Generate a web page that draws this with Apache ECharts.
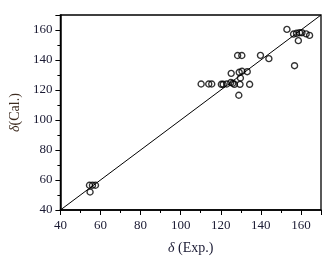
<!DOCTYPE html>
<html>
<head>
<meta charset="utf-8">
<script src="https://cdn.jsdelivr.net/npm/echarts@6/dist/echarts.min.js"></script>
<style>
  html, body { margin: 0; padding: 0; background: #fff; }
  #main { width: 334px; height: 261px; }
</style>
</head>
<body>
<div id="main"></div>
<script>
// experimental vs calculated shifts [exp, cal]
var lowPoints = [
  [54.5, 56.5], [56, 56.5], [57.5, 56.5], [54.8, 52]
];
var midPoints = [
  [110.2, 124], [114, 124], [115.5, 124], [120.3, 123.8], [121.2, 123.8],
  [123, 124], [125, 125], [126, 124.5], [126.8, 123.8], [129.6, 123.8],
  [134.4, 123.8], [125.2, 131.1], [129.2, 131.8], [130.6, 132.5],
  [133.2, 132.2], [129.8, 128], [129, 116.5], [128.4, 143], [130.5, 143],
  [139.8, 143.1], [144, 140.9]
];
var highPoints = [
  [153, 160.4], [156.3, 157.3], [157.8, 157.8], [159.3, 158.2], [160.5, 158.2],
  [162.6, 157.4], [164.3, 156.4], [158.7, 152.9], [156.8, 136.2]
];
var diagLine = [[40, 40], [170, 170]];
var axisMin = 40, axisMax = 170, axisStep = 20;

var chart = echarts.init(document.getElementById('main'));
var numColor = '#1a1a33';
var fontFam = 'Liberation Serif';

option = {
  backgroundColor: '#FFFFFF',
  animation: false,
  grid: {
    left: 58.5, right: 13, top: 15, bottom: 51,
    show: true,
    borderColor: '#000',
    borderWidth: 1.3
  },
  xAxis: {
    type: 'value',
    min: axisMin, max: axisMax, interval: axisStep,
    name: '{i|δ} (Exp.)',
    nameLocation: 'middle',
    nameGap: 31,
    nameTextStyle: {
      fontFamily: fontFam, fontSize: 14, color: '#1a1a33',
      rich: { i: { fontStyle: 'italic', fontFamily: fontFam, fontSize: 14, color: '#1a1a33' } }
    },
    axisLine: { onZero: false, lineStyle: { color: '#000', width: 1.5 } },
    axisTick: { inside: false, length: 5, lineStyle: { color: '#000', width: 1 } },
    minorTick: { show: true, splitNumber: 2, length: 3, lineStyle: { color: '#000', width: 1 } },
    axisLabel: { showMaxLabel: false, margin: 9, fontFamily: fontFam, fontSize: 13, color: numColor },
    splitLine: { show: false }
  },
  yAxis: {
    type: 'value',
    min: axisMin, max: axisMax, interval: axisStep,
    name: '{i|δ}(Cal.)',
    nameLocation: 'middle',
    nameGap: 23,
    nameTextStyle: {
      fontFamily: fontFam, fontSize: 14, color: '#3d2b1f',
      rich: { i: { fontStyle: 'italic', fontFamily: fontFam, fontSize: 14, color: '#3d2b1f' } }
    },
    axisLine: { onZero: false, lineStyle: { color: '#000', width: 1.5 } },
    axisTick: { inside: false, length: 5, lineStyle: { color: '#000', width: 1 } },
    minorTick: { show: true, splitNumber: 2, length: 3, lineStyle: { color: '#000', width: 1 } },
    axisLabel: { showMaxLabel: false, margin: 8, fontFamily: fontFam, fontSize: 13, color: numColor },
    splitLine: { show: false }
  },
  series: [
    {
      type: 'line',
      data: diagLine,
      symbol: 'none',
      lineStyle: { color: '#000', width: 1 },
      z: 1
    },
    {
      type: 'scatter',
      data: lowPoints.concat(midPoints, highPoints),
      symbol: 'circle',
      symbolSize: 6,
      itemStyle: { color: 'transparent', borderColor: '#000', borderWidth: 1.4 },
      z: 2
    }
  ]
};
chart.setOption(option);
</script>
</body>
</html>
